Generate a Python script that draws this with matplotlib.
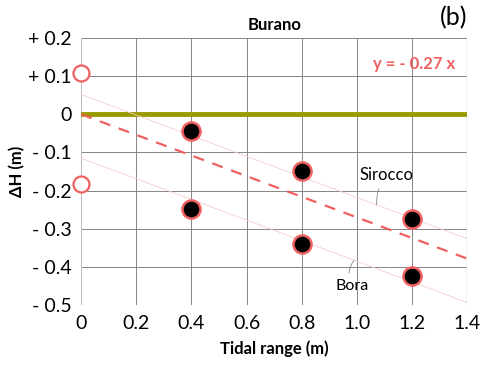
import numpy as np
import matplotlib.pyplot as plt

plt.rcParams['font.family'] = ['Lato', 'DejaVu Sans']

# Measured subsidence vs tidal range at Burano
tidal = [0.4, 0.4, 0.8, 0.8, 1.2, 1.2]
dh = [-0.045, -0.248, -0.149, -0.34, -0.274, -0.423]

# Reference points at zero tidal range
ref_x = [0.0, 0.0]
ref_y = [0.107, -0.183]

slope = -0.27
sirocco_icpt = 0.052
bora_icpt = -0.115

xticks = [0, 0.2, 0.4, 0.6, 0.8, 1.0, 1.2, 1.4]
xlabels = ['0', '0.2', '0.4', '0.6', '0.8', '1.0', '1.2', '1.4']
yticks = [0.2, 0.1, 0, -0.1, -0.2, -0.3, -0.4, -0.5]
ylabels = ['+ 0.2', '+ 0.1', '0', '- 0.1', '- 0.2', '- 0.3', '- 0.4', '- 0.5']

red = '#f06060'

fig = plt.figure(figsize=(4.83, 3.65), dpi=100)
ax = fig.add_axes([0.168, 0.164, 0.799, 0.732])
ax.set_xlim(0, 1.4)
ax.set_ylim(-0.5, 0.2)

ax.set_xticks(xticks)
ax.set_xticklabels(xlabels)
ax.set_yticks(yticks)
ax.set_yticklabels(ylabels)
ax.tick_params(length=0, labelsize=14, pad=7)
ax.grid(True, color='#858585', lw=0.7)
ax.set_axisbelow(True)
for s in ax.spines.values():
    s.set_visible(False)
ax.axvline(0, color='#c8c8c8', lw=1.2, zorder=1)
ax.axvline(1.4, color='#c8c8c8', lw=1.0, zorder=1)
ax.axhline(-0.5, color='#858585', lw=0.7, zorder=1)

xs = np.array([0, 1.4])
ax.axhline(0, color='#999900', lw=3.5, zorder=2)
ax.plot(xs, sirocco_icpt + slope * xs, color='#f7cccc', lw=0.6, zorder=2)
ax.plot(xs, bora_icpt + slope * xs, color='#f7cccc', lw=0.6, zorder=2)
ax.plot(xs, slope * xs, color=red, lw=1.6, ls=(0, (5, 4)), zorder=3)

ax.plot(tidal, dh, 'o', ms=13, mfc='black', mec=red, mew=1.8, zorder=4, clip_on=False)
ax.plot(ref_x, ref_y, 'o', ms=11.5, mfc='white', mec=red, mew=1.6, zorder=4, clip_on=False)

ax.annotate('Sirocco', xy=(1.072, -0.237), xytext=(1.108, -0.16), fontsize=12,
            ha='center', va='center',
            arrowprops=dict(arrowstyle='-', color='#888888', lw=0.6,
                            connectionstyle='arc3,rad=0.2', shrinkA=2, shrinkB=0))
ax.annotate('Bora', xy=(0.99, -0.382), xytext=(0.982, -0.449), fontsize=11.5,
            ha='center', va='center',
            arrowprops=dict(arrowstyle='-', color='#888888', lw=0.6,
                            connectionstyle='arc3,rad=-0.3', shrinkA=2, shrinkB=0))

ax.text(1.358, 0.133, 'y = - 0.27 x', color=red, fontsize=12, fontweight='bold',
        ha='right', va='center')
ax.set_title('Burano', fontsize=12, fontweight='bold', pad=6)
fig.text(0.968, 0.953, '(b)', fontsize=18, ha='right', va='center')
ax.set_xlabel('Tidal range (m)', fontsize=12, fontweight='bold', labelpad=6)
ax.set_ylabel('ΔH (m)', fontsize=12, fontweight='bold', labelpad=2)

fig.savefig('out.png', dpi=100)
